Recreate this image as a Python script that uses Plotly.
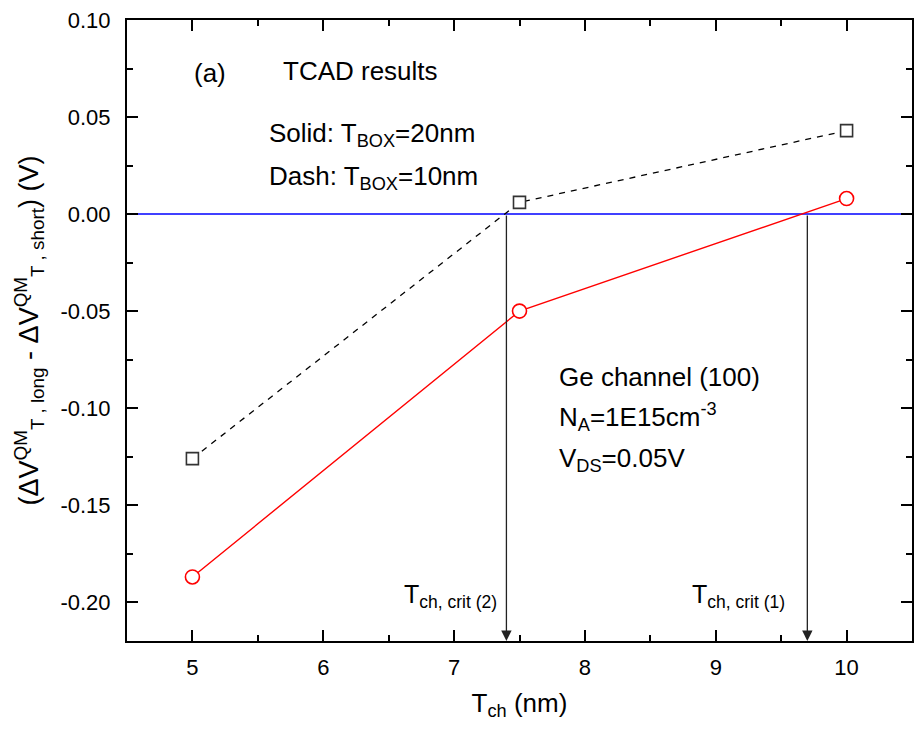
import plotly.graph_objects as go

# Channel thickness (nm)
t_ch = [5, 7.5, 10]
# Threshold-voltage difference (V)
dvt_box20 = [-0.187, -0.050, 0.008]   # solid: T_BOX = 20 nm
dvt_box10 = [-0.126, 0.006, 0.043]    # dash:  T_BOX = 10 nm
# Critical channel thicknesses where the curves cross zero
t_crit = [7.4, 9.7]
crit_labels = ["T<sub>ch, crit (2)</sub>", "T<sub>ch, crit (1)</sub>"]
crit_label_x = [6.6, 8.8]

# Tick values and labels
x_ticks = [5, 6, 7, 8, 9, 10]
x_ticklabels = ["5", "6", "7", "8", "9", "10"]
y_ticks = [-0.20, -0.15, -0.10, -0.05, 0.00, 0.05, 0.10]
y_ticklabels = ["-0.20", "-0.15", "-0.10", "-0.05", "0.00", "0.05", "0.10"]

X_RANGE = [4.5, 10.5]
Y_RANGE = [-0.22, 0.10]
FONT = "Liberation Sans, Arial, sans-serif"

fig = go.Figure()

fig.add_trace(go.Scatter(
    x=t_ch, y=dvt_box10, mode="lines+markers",
    line=dict(color="black", width=1.3, dash="6px,6px"),
    marker=dict(symbol="square", size=12, color="white",
                line=dict(color="#333333", width=1.6)),
    showlegend=False,
))
fig.add_trace(go.Scatter(
    x=t_ch, y=dvt_box20, mode="lines+markers",
    line=dict(color="#ff0000", width=1.4),
    marker=dict(symbol="circle", size=14, color="white",
                line=dict(color="#ff0000", width=1.6)),
    showlegend=False,
))

# zero reference line
fig.add_shape(type="line", xref="x domain", yref="y", x0=0, x1=1, y0=0, y1=0,
              line=dict(color="#0000ff", width=1.5), layer="below")

# arrows marking the critical thicknesses
for xc, lab, lx in zip(t_crit, crit_labels, crit_label_x):
    fig.add_annotation(x=xc, y=Y_RANGE[0], ax=xc, ay=0, xref="x", yref="y",
                       axref="x", ayref="y", text="", showarrow=True,
                       arrowhead=2, arrowsize=1.6, arrowwidth=1.3,
                       arrowcolor="#222222", standoff=0)
    fig.add_annotation(x=lx, y=-0.197, xref="x", yref="y", text=lab,
                       showarrow=False, xanchor="left", yanchor="middle",
                       font=dict(family=FONT, size=25, color="black"))

texts = [
    (5.0, 0.0725, "(a)"),
    (5.68, 0.0735, "TCAD results"),
    (5.567, 0.041, "Solid: T<sub>BOX</sub>=20nm"),
    (5.567, 0.019, "Dash: T<sub>BOX</sub>=10nm"),
    (7.79, -0.0838, "Ge channel (100)"),
    (7.79, -0.1045, "N<sub>A</sub>=1E15cm<sup>-3</sup>"),
    (7.79, -0.1265, "V<sub>DS</sub>=0.05V"),
]
for tx, ty, tt in texts:
    fig.add_annotation(x=tx, y=ty, xref="x", yref="y", text=tt,
                       showarrow=False, xanchor="left", yanchor="middle",
                       font=dict(family=FONT, size=26, color="black"))

axis_common = dict(
    showline=True, linecolor="black", linewidth=2, mirror="allticks",
    ticks="inside", ticklen=11, tickwidth=2, tickcolor="black",
    showgrid=False, zeroline=False,
    tickfont=dict(family=FONT, size=22, color="black"),
)

fig.update_xaxes(
    range=X_RANGE, tickmode="array", tickvals=x_ticks, ticktext=x_ticklabels,
    minor=dict(dtick=0.5, tick0=0, ticks="inside", ticklen=6, tickwidth=2,
               tickcolor="black"),
    title=dict(text="T<sub>ch</sub> (nm)", standoff=14,
               font=dict(family=FONT, size=26, color="black")),
    ticklabelstandoff=6,
    **axis_common,
)
fig.update_yaxes(
    range=Y_RANGE, tickmode="array", tickvals=y_ticks, ticktext=y_ticklabels,
    minor=dict(dtick=0.025, tick0=0, ticks="inside", ticklen=6, tickwidth=2,
               tickcolor="black"),
    title=dict(text="(ΔV<sup>QM</sup><sub>T , long</sub> - ΔV<sup>QM</sup><sub>T , short</sub>) (V)",
               standoff=14, font=dict(family=FONT, size=27, color="black")),
    ticklabelstandoff=10,
    **axis_common,
)

fig.update_layout(
    width=917, height=729,
    margin=dict(l=127, r=5, t=20, b=88, autoexpand=False),
    paper_bgcolor="white", plot_bgcolor="white",
    font=dict(family=FONT, color="black"),
)

fig.write_html("out.html")
